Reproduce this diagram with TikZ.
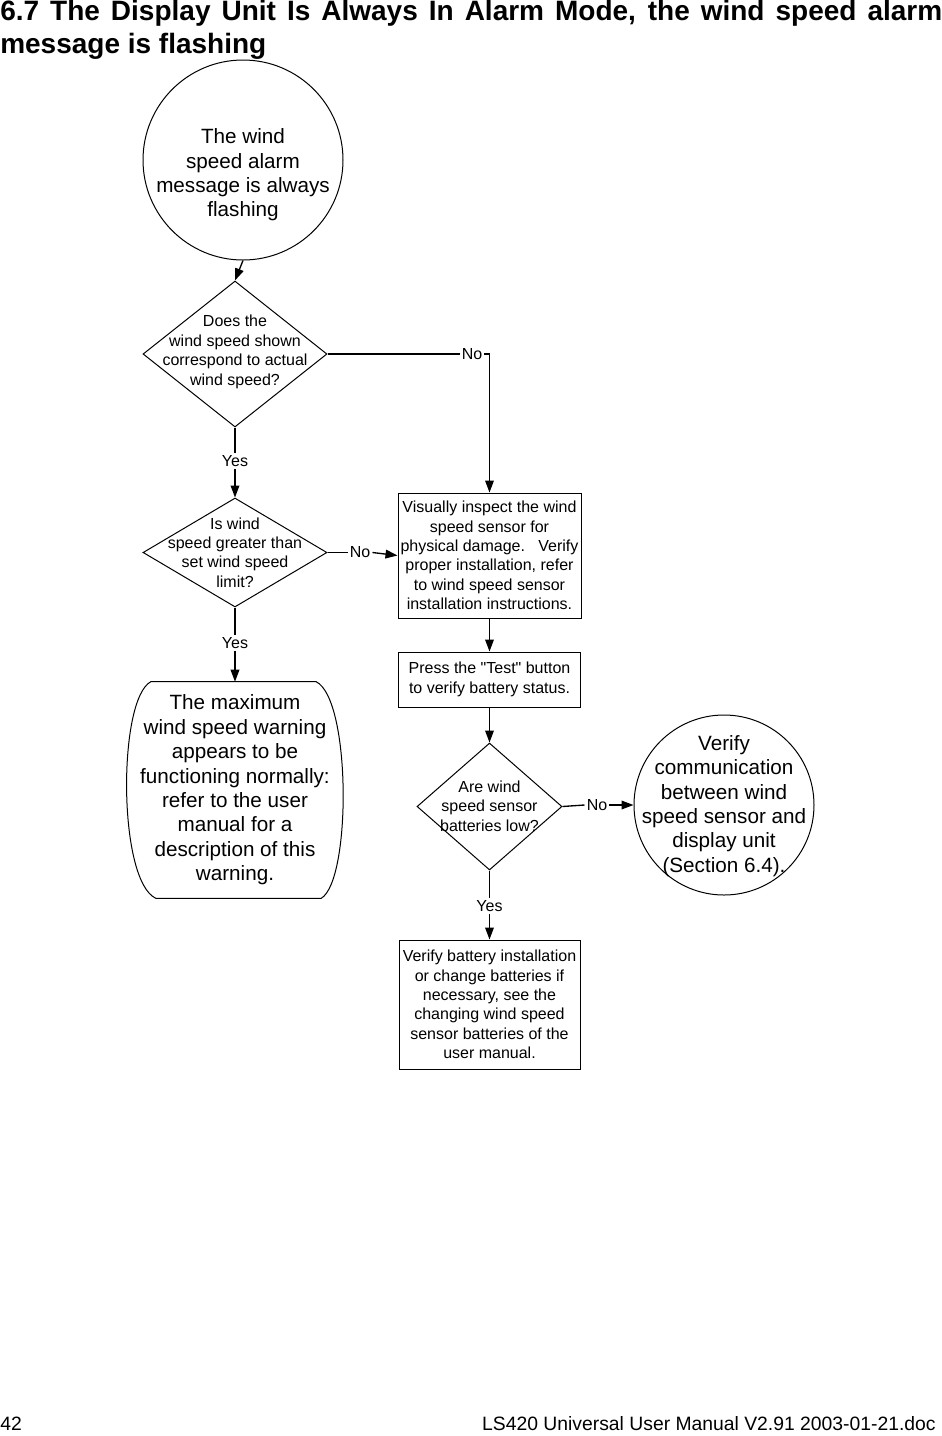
\documentclass[tikz,border=0pt]{standalone}
\usepackage{fontspec}
\setmainfont{Liberation Sans}
\usetikzlibrary{shapes.geometric,arrows.meta,calc}

\tikzset{
  outline/.style={draw,line width=0.75pt,inner sep=0pt},
  decision/.style={outline,diamond},
  bubble/.style={outline,circle},
  stepbox/.style={outline,rectangle,align=center,font=\fontsize{12}{14.6}\selectfont},
  smalltext/.style={align=center,inner sep=0pt,font=\fontsize{12}{14.6}\selectfont},
  bigtext/.style={align=center,inner sep=0pt,font=\fontsize{15.5}{18.3}\selectfont},
  answer/.style={inner sep=1.5pt,font=\fontsize{12}{14}\selectfont},
  flowline/.style={line width=1pt},
  flowarrow/.style={line width=1pt,-{Triangle[length=9pt,width=6.5pt]}},
}

\begin{document}
\begin{tikzpicture}[x=0.75pt,y=-0.75pt]
\useasboundingbox (0,0) rectangle (942,1436);
\node[anchor=north west,inner sep=0pt,text width=706.5pt,align=justify,font=\bfseries\fontsize{21}{25}\selectfont] (title) at (0,0)
  {6.7 The Display Unit Is Always In Alarm Mode, the wind speed alarm message is flashing};

% shapes
\node[bubble,minimum size=150pt] (start) at (243,160) {};
\node[bigtext] (starttext) at (243,175) {The wind\\speed alarm\\message is always\\flashing};

\node[decision,minimum width=138pt,minimum height=109.5pt] (q1) at (235,354) {};
\node[smalltext] (q1text) at (235,352) {Does the\\wind speed shown\\correspond to actual\\wind speed?};

\node[decision,minimum width=138pt,minimum height=81.75pt] (q2) at (235,552.5) {};
\node[smalltext] (q2text) at (235,552.5) {Is wind\\speed greater than\\set wind speed\\limit?};

\node[stepbox,minimum width=137.25pt,minimum height=93.75pt] (check) at (489.5,555.5)
  {Visually inspect the wind\\speed sensor for\\physical damage.~~~Verify\\proper installation, refer\\to wind speed sensor\\installation instructions.};

\node[stepbox,minimum width=136.5pt,minimum height=41.25pt] (test) at (489.5,679.5)
  {Press the \textquotedbl Test\textquotedbl\ button\\to verify battery status.};

\node[decision,minimum width=108.75pt,minimum height=95.25pt] (q3) at (489.5,806.5) {};
\node[smalltext] (q3text) at (489.5,806) {Are wind\\speed sensor\\batteries low?};

\node[bubble,minimum size=135pt] (comm) at (724,805) {};
\node[bigtext] (commtext) at (724,806) {Verify\\communication\\between wind\\speed sensor and\\display unit\\(Section 6.4).};

\node[stepbox,minimum width=135.75pt,minimum height=96.75pt] (battery) at (489.5,1004.5)
  {Verify battery installation\\or change batteries if\\necessary, see the\\changing wind speed\\sensor batteries of the\\user manual.};

\node[bigtext,minimum width=163.5pt,minimum height=162pt] (normal) at (235,790)
  {The maximum\\wind speed warning\\appears to be\\functioning normally:\\refer to the user\\manual for a\\description of this\\warning.};
\draw[line width=0.75pt] ($(normal.north west)+(25,0)$) -- ($(normal.north east)+(-28,0)$)
  .. controls ($(normal.north east)+(7,18)$) and ($(normal.south east)+(7,-18)$) .. ($(normal.south east)+(-23,0)$)
  -- ($(normal.south west)+(30,0)$)
  .. controls ($(normal.south west)+(-8,-18)$) and ($(normal.north west)+(-8,18)$) .. ($(normal.north west)+(25,0)$) -- cycle;

% answers
\node[answer] (no1) at (472,354) {No};
\node[answer] (yes1) at (235,461) {Yes};
\node[answer] (no2) at (360,552.5) {No};
\node[answer] (yes2) at (235,643) {Yes};
\node[answer] (no3) at (597,805) {No};
\node[answer] (yes3) at (489.5,906) {Yes};

% connectors
\draw[flowarrow] (start.south) -- (q1.north);
\draw[flowline] (q1.east) -- (no1.west);
\draw[flowarrow] (no1.east) -| (check.north);
\draw[flowline] (q1.south) -- (yes1.north);
\draw[flowarrow] (yes1.south) -- (q2.north);
\draw[flowline] (q2.east) -- (no2.west);
\draw[flowarrow] (no2.east) -- (check.west);
\draw[flowline] (q2.south) -- (yes2.north);
\draw[flowarrow] (yes2.south) -- (normal.north);
\draw[flowarrow] (check.south) -- (test.north);
\draw[flowarrow] (test.south) -- (q3.north);
\draw[flowline] (q3.east) -- (no3.west);
\draw[flowarrow] (no3.east) -- (comm.west);
\draw[flowline] (q3.south) -- (yes3.north);
\draw[flowarrow] (yes3.south) -- (battery.north);

\node[anchor=base west,inner sep=0pt,font=\fontsize{14.5}{17}\selectfont] (pagenum) at (0,1430) {42};
\node[anchor=base east,inner sep=0pt,font=\fontsize{14.5}{17}\selectfont] (docname) at (936,1430) {LS420 Universal User Manual V2.91 2003-01-21.doc};
\end{tikzpicture}
\end{document}
